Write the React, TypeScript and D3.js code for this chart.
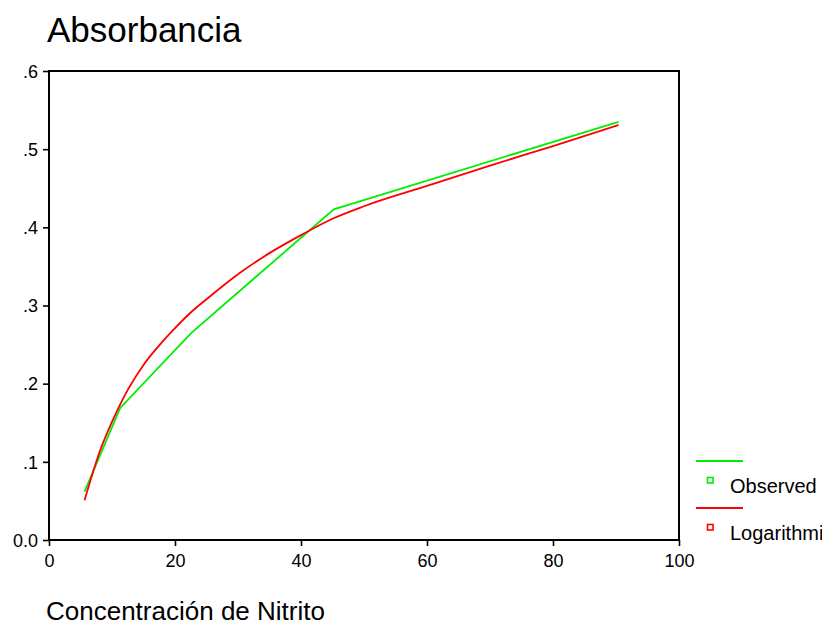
import React, { useEffect, useRef } from 'react';
import * as d3 from 'd3';

// Observed standards (Concentración de Nitrito vs Absorbancia)
const observedX = [5.65, 11.3, 22.6, 45.2, 90.4];
const observedY = [0.062, 0.169, 0.265, 0.423, 0.535];

// Logarithmic fit curve
const logX = [5.65, 8, 10, 12.5, 15, 17.5, 20, 22.5, 25, 30, 35, 40, 45, 50, 60, 70, 80, 90.4];
const logY = [0.051, 0.112, 0.151, 0.192, 0.224, 0.249, 0.271, 0.291, 0.308, 0.34, 0.367, 0.39, 0.411, 0.427, 0.453, 0.479, 0.504, 0.531];

const xTicks = [0, 20, 40, 60, 80, 100];
const yTicks = [0, 0.1, 0.2, 0.3, 0.4, 0.5, 0.6];
const yTickLabels = ['0.0', '.1', '.2', '.3', '.4', '.5', '.6'];
const seriesNames = ['Observed', 'Logarithmi'];
const seriesColors = ['#00ee00', '#ff0000'];

const App = () => {
  const svgRef = useRef<SVGSVGElement>(null);

  useEffect(() => {
    const width = 822;
    const height = 639;
    const margin = { top: 71, right: 143, bottom: 99, left: 49 };
    const font = 'Arial, "Liberation Sans", sans-serif';

    const svg = d3.select(svgRef.current);
    svg.selectAll('*').remove();

    const x = d3.scaleLinear().domain([0, 100]).range([margin.left, width - margin.right]);
    const y = d3.scaleLinear().domain([0, 0.6]).range([height - margin.bottom, margin.top]);

    // title
    svg.append('text')
      .attr('x', 47)
      .attr('y', 42)
      .attr('font-family', font)
      .attr('font-size', 35)
      .text('Absorbancia');

    // frame
    svg.append('rect')
      .attr('x', x(0))
      .attr('y', y(0.6))
      .attr('width', x(100) - x(0))
      .attr('height', y(0) - y(0.6))
      .attr('fill', 'none')
      .attr('stroke', '#000')
      .attr('stroke-width', 2);

    // x axis
    const xAxis = svg.append('g')
      .attr('transform', `translate(0,${y(0)})`)
      .call(d3.axisBottom(x).tickValues(xTicks).tickSize(6).tickFormat(d3.format('d')));
    xAxis.select('.domain').remove();
    xAxis.selectAll('line').attr('stroke-width', 1.6);
    xAxis.selectAll('text')
      .attr('font-family', font)
      .attr('font-size', 18)
      .attr('y', 27)
      .attr('dy', 0)
      .attr('fill', '#000');

    // y axis
    const yAxis = svg.append('g')
      .attr('transform', `translate(${x(0)},0)`)
      .call(d3.axisLeft(y).tickValues(yTicks).tickSize(6)
        .tickFormat((d, i) => yTickLabels[i]));
    yAxis.select('.domain').remove();
    yAxis.selectAll('line').attr('stroke-width', 1.6);
    yAxis.selectAll('text')
      .attr('font-family', font)
      .attr('font-size', 18)
      .attr('x', -11)
      .attr('dy', '0.35em')
      .attr('fill', '#000');

    // lines
    const line = d3.line<[number, number]>()
      .x(d => x(d[0]))
      .y(d => y(d[1]));

    const observed: [number, number][] = observedX.map((v, i) => [v, observedY[i]]);
    const logFit: [number, number][] = logX.map((v, i) => [v, logY[i]]);

    svg.append('path')
      .datum(observed)
      .attr('d', line)
      .attr('fill', 'none')
      .attr('stroke', seriesColors[0])
      .attr('stroke-width', 1.8);

    svg.append('path')
      .datum(logFit)
      .attr('d', line.curve(d3.curveMonotoneX))
      .attr('fill', 'none')
      .attr('stroke', seriesColors[1])
      .attr('stroke-width', 1.8);

    // x axis title
    svg.append('text')
      .attr('x', 46)
      .attr('y', 620)
      .attr('font-family', font)
      .attr('font-size', 26)
      .text('Concentración de Nitrito');

    // legend
    const legend = svg.append('g');
    seriesNames.forEach((name, i) => {
      const top = 461 + i * 47;
      legend.append('line')
        .attr('x1', 696)
        .attr('x2', 743)
        .attr('y1', top)
        .attr('y2', top)
        .attr('stroke', seriesColors[i])
        .attr('stroke-width', 1.8);
      legend.append('rect')
        .attr('x', 707.5)
        .attr('y', top + 16.5)
        .attr('width', 5.5)
        .attr('height', 5.5)
        .attr('fill', 'none')
        .attr('stroke', seriesColors[i])
        .attr('stroke-width', 1.6);
      legend.append('text')
        .attr('x', 730)
        .attr('y', top + 32)
        .attr('font-family', font)
        .attr('font-size', 20)
        .text(name);
    });
  }, []);

  return (
    <svg
      ref={svgRef}
      width={822}
      height={639}
      style={{ position: 'absolute', left: 0, top: 0, background: '#fff' }}
    ></svg>
  );
};

export default App;
